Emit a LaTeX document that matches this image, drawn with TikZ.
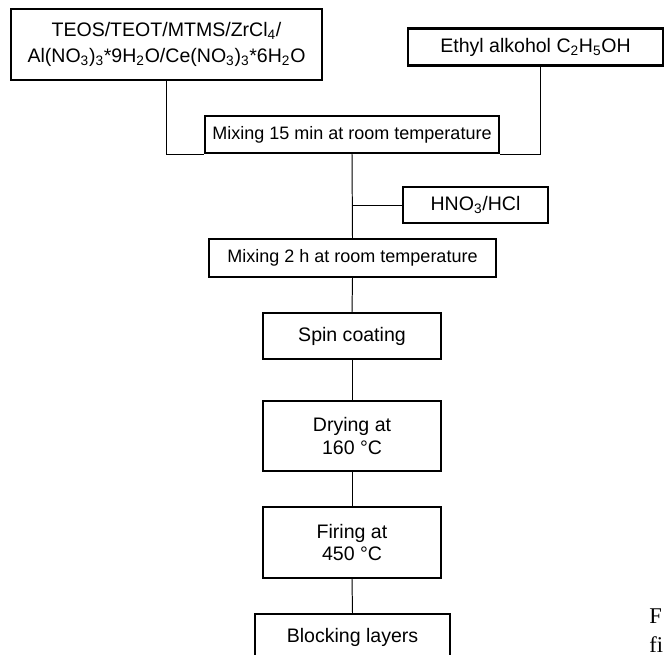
\documentclass[tikz,border=0pt]{standalone}
\usepackage{fontspec}
\setmainfont{Liberation Sans}
\newfontfamily\capfont{Liberation Serif}
\usetikzlibrary{calc}
\newcommand{\pxu}{0.025cm}
\newcommand{\sub}[1]{\textsubscript{#1}}

\begin{document}
\begin{tikzpicture}[x=0.025cm,y=-0.025cm]
	\tikzset{stepbox/.style={draw,line width=1.7pt,inner sep=0pt,align=center,font=\fontsize{13.9}{16}\selectfont},
		mixbox/.style={stepbox,font=\fontsize{12.8}{15}\selectfont},
		link/.style={line width=0.7pt}}
	\useasboundingbox (0,0) rectangle (664,654);

	% starting materials
	\node[stepbox,minimum width=311*\pxu,minimum height=71*\pxu,font=\fontsize{13.9}{18.5}\selectfont] (teos) at (166.5,44.5) {TEOS/TEOT/MTMS/ZrCl\sub{4}/\\Al(NO\sub{3})\sub{3}*9H\sub{2}O/Ce(NO\sub{3})\sub{3}*6H\sub{2}O};
	\node[stepbox,minimum width=255*\pxu,minimum height=37*\pxu] (ethyl) at (535.5,47) {Ethyl alkohol C\sub{2}H\sub{5}OH};
	\node[mixbox,minimum width=294*\pxu,minimum height=37*\pxu] (mix1) at (352,134.5) {Mixing 15 min at room temperature};
	\node[stepbox,minimum width=145*\pxu,minimum height=36*\pxu] (hno) at (475.5,205) {HNO\sub{3}/HCl};
	\node[mixbox,minimum width=287*\pxu,minimum height=38*\pxu] (mix2) at (352.5,258) {Mixing 2 h at room temperature};

	% process steps
	\node[stepbox,minimum width=178*\pxu,minimum height=46*\pxu] (spin) at (352,336) {Spin coating};
	\node[stepbox,minimum width=178*\pxu,minimum height=70*\pxu] (dry) at (352,436) {Drying at\\160 \textdegree C};
	\node[stepbox,minimum width=178*\pxu,minimum height=71*\pxu] (fire) at (352,542.5) {Firing at\\450 \textdegree C};
	\node[stepbox,minimum width=195*\pxu,minimum height=46*\pxu] (block) at (352.5,637) {Blocking layers};

	\draw[link] (teos.south) |- (mix1.south west);
	\draw[link] ($(ethyl.south)+(4.5,0)$) |- (mix1.south east);
	\draw[link] (mix1.south) -- (mix2.north);
	\draw[link] (hno.west) -- (hno.west -| mix1.south);
	\draw[link] (mix2.south) -- (spin.north);
	\draw[link] (spin.south) -- (dry.north);
	\draw[link] (dry.south) -- (fire.north);
	\draw[link] (fire.south) -- (block.north);

	% cut caption
	\node[anchor=base west,inner sep=0pt,font=\capfont\fontsize{16}{18}\selectfont] (capa) at (649,623) {F};
	\node[anchor=base west,inner sep=0pt,font=\capfont\fontsize{16}{18}\selectfont] (capb) at (649,652) {fi};
\end{tikzpicture}
\end{document}
